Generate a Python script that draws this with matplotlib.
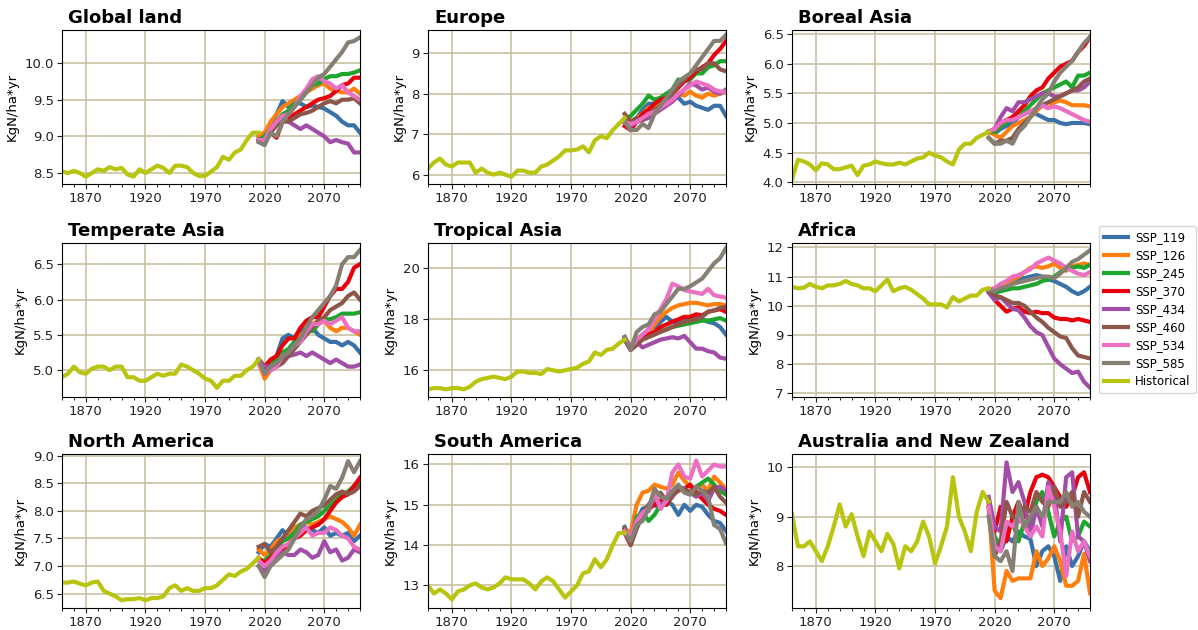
import numpy as np
import matplotlib
matplotlib.use("Agg")
import matplotlib.pyplot as plt
from matplotlib.ticker import MultipleLocator

hist_years = list(range(1850, 2016, 5))
ssp_years = list(range(2015, 2101, 5))
scenarios = ["SSP_119", "SSP_126", "SSP_245", "SSP_370", "SSP_434", "SSP_460", "SSP_534", "SSP_585"]
regions = ["Global land", "Europe", "Boreal Asia", "Temperate Asia", "Tropical Asia", "Africa",
           "North America", "South America", "Australia and New Zealand"]

# ---- Global land ----
global_hist = [8.52, 8.50, 8.53, 8.50, 8.45, 8.50, 8.55, 8.53, 8.58, 8.55, 8.57, 8.48, 8.45, 8.55, 8.50, 8.55, 8.60,
               8.57, 8.50, 8.60, 8.60, 8.58, 8.50, 8.46, 8.46, 8.52, 8.58, 8.72, 8.68, 8.78, 8.82, 8.95, 9.05, 9.05]
global_ssp = [
    [9.0, 9.05, 9.15, 9.3, 9.48, 9.4, 9.45, 9.45, 9.4, 9.42, 9.4, 9.38, 9.33, 9.28, 9.2, 9.15, 9.15, 9.05],
    [9.0, 9.05, 9.2, 9.3, 9.4, 9.45, 9.5, 9.55, 9.6, 9.65, 9.7, 9.72, 9.65, 9.62, 9.6, 9.6, 9.65, 9.58],
    [8.95, 9.0, 9.1, 9.2, 9.3, 9.35, 9.45, 9.5, 9.6, 9.7, 9.72, 9.78, 9.82, 9.82, 9.85, 9.85, 9.87, 9.9],
    [8.95, 8.95, 9.05, 8.98, 9.2, 9.25, 9.3, 9.35, 9.4, 9.45, 9.5, 9.52, 9.55, 9.62, 9.7, 9.72, 9.8, 9.8],
    [8.95, 8.92, 9.1, 9.2, 9.25, 9.2, 9.15, 9.1, 9.15, 9.1, 9.05, 9.0, 8.92, 8.95, 8.92, 8.9, 8.78, 8.78],
    [8.95, 8.92, 9.05, 9.15, 9.2, 9.2, 9.25, 9.3, 9.32, 9.35, 9.4, 9.45, 9.48, 9.45, 9.5, 9.5, 9.52, 9.45],
    [8.95, 8.95, 9.1, 9.2, 9.28, 9.3, 9.4, 9.55, 9.65, 9.78, 9.82, 9.75, 9.72, 9.65, 9.7, 9.6, 9.55, 9.5],
    [8.92, 8.88, 9.05, 9.0, 9.2, 9.3, 9.4, 9.5, 9.6, 9.7, 9.8, 9.85, 9.95, 10.05, 10.15, 10.28, 10.3, 10.35],
]

# ---- Europe ----
europe_hist = [6.15, 6.3, 6.4, 6.25, 6.2, 6.3, 6.3, 6.3, 6.05, 6.15, 6.05, 6.0, 6.05, 6.0, 5.95, 6.1, 6.1, 6.05,
               6.05, 6.2, 6.25, 6.35, 6.45, 6.6, 6.6, 6.62, 6.7, 6.55, 6.85, 6.95, 6.9, 7.1, 7.25, 7.4]
europe_ssp = [
    [7.3, 7.3, 7.4, 7.6, 7.75, 7.75, 7.85, 7.9, 7.95, 7.9, 7.75, 7.8, 7.7, 7.65, 7.6, 7.7, 7.7, 7.45],
    [7.3, 7.2, 7.4, 7.5, 7.65, 7.7, 7.8, 7.9, 8.0, 8.0, 7.95, 8.05, 7.95, 7.9, 8.0, 7.95, 8.0, 8.05],
    [7.35, 7.45, 7.6, 7.75, 7.95, 7.85, 7.9, 8.0, 8.1, 8.35, 8.3, 8.35, 8.5, 8.5, 8.65, 8.7, 8.8, 8.8],
    [7.2, 7.1, 7.3, 7.5, 7.6, 7.75, 7.85, 7.9, 8.0, 8.15, 8.3, 8.4, 8.55, 8.65, 8.75, 8.95, 9.1, 9.3],
    [7.3, 7.2, 7.3, 7.35, 7.4, 7.5, 7.6, 7.7, 7.8, 7.95, 8.1, 8.25, 8.2, 8.1, 8.15, 8.05, 8.0, 8.1],
    [7.5, 7.3, 7.4, 7.35, 7.5, 7.6, 7.7, 7.85, 8.0, 8.2, 8.35, 8.5, 8.6, 8.6, 8.75, 8.75, 8.6, 8.55],
    [7.3, 7.25, 7.3, 7.4, 7.5, 7.55, 7.65, 7.75, 7.85, 8.0, 8.1, 8.2, 8.3, 8.25, 8.2, 8.1, 8.05, 8.05],
    [7.3, 7.1, 7.1, 7.25, 7.15, 7.5, 7.7, 7.9, 8.1, 8.3, 8.4, 8.5, 8.7, 8.9, 9.1, 9.3, 9.3, 9.45],
]

# ---- Boreal Asia ----
boreal_hist = [4.05, 4.38, 4.35, 4.3, 4.2, 4.32, 4.3, 4.22, 4.22, 4.25, 4.28, 4.12, 4.28, 4.3, 4.35, 4.32, 4.3,
               4.3, 4.33, 4.3, 4.35, 4.4, 4.42, 4.5, 4.45, 4.42, 4.35, 4.3, 4.55, 4.65, 4.65, 4.75, 4.8, 4.85]
boreal_ssp = [
    [4.85, 4.82, 4.9, 4.95, 5.0, 5.1, 5.15, 5.2, 5.15, 5.1, 5.05, 5.05, 5.0, 4.98, 5.0, 5.0, 5.0, 4.98],
    [4.85, 4.8, 4.75, 4.85, 4.95, 5.0, 5.05, 5.1, 5.2, 5.3, 5.25, 5.35, 5.38, 5.35, 5.3, 5.3, 5.3, 5.28],
    [4.85, 4.85, 4.95, 5.0, 5.1, 5.15, 5.2, 5.3, 5.4, 5.5, 5.55, 5.6, 5.65, 5.7, 5.6, 5.8, 5.8, 5.85],
    [4.85, 4.9, 5.0, 5.05, 5.1, 5.2, 5.3, 5.45, 5.55, 5.6, 5.75, 5.85, 5.95, 6.0, 6.05, 6.2, 6.3, 6.45],
    [4.85, 4.9, 5.1, 5.25, 5.2, 5.35, 5.35, 5.4, 5.45, 5.5, 5.5, 5.45, 5.45, 5.5, 5.55, 5.55, 5.6, 5.7],
    [4.75, 4.65, 4.7, 4.7, 4.75, 4.9, 5.0, 5.1, 5.25, 5.3, 5.35, 5.4, 5.45, 5.5, 5.55, 5.6, 5.7, 5.75],
    [4.85, 4.9, 5.0, 5.05, 5.05, 5.1, 5.15, 5.2, 5.25, 5.3, 5.25, 5.28, 5.25, 5.2, 5.15, 5.1, 5.05, 5.02],
    [4.75, 4.65, 4.65, 4.7, 4.65, 4.85, 4.95, 5.1, 5.25, 5.4, 5.5, 5.7, 5.85, 5.95, 6.05, 6.2, 6.35, 6.45],
]

# ---- Temperate Asia ----
temperate_hist = [4.9, 4.95, 5.05, 4.97, 4.95, 5.02, 5.05, 5.05, 5.0, 5.05, 5.05, 4.9, 4.9, 4.85, 4.85, 4.9, 4.95,
                  4.92, 4.95, 4.95, 5.08, 5.05, 5.0, 4.95, 4.88, 4.85, 4.75, 4.85, 4.85, 4.92, 4.92, 5.0, 5.05, 5.15]
temperate_ssp = [
    [5.15, 5.0, 5.1, 5.2, 5.45, 5.5, 5.45, 5.55, 5.6, 5.6, 5.5, 5.45, 5.4, 5.4, 5.35, 5.4, 5.35, 5.25],
    [5.1, 4.88, 5.0, 5.1, 5.2, 5.25, 5.4, 5.5, 5.55, 5.65, 5.7, 5.7, 5.6, 5.55, 5.6, 5.6, 5.55, 5.5],
    [5.15, 5.05, 5.1, 5.15, 5.25, 5.3, 5.4, 5.45, 5.6, 5.55, 5.65, 5.72, 5.72, 5.75, 5.8, 5.8, 5.8, 5.82],
    [5.15, 5.05, 5.15, 5.2, 5.35, 5.45, 5.45, 5.6, 5.7, 5.75, 5.75, 5.9, 6.05, 6.15, 6.15, 6.25, 6.45, 6.5],
    [5.15, 5.05, 5.05, 5.05, 5.15, 5.2, 5.22, 5.25, 5.2, 5.25, 5.2, 5.15, 5.1, 5.15, 5.1, 5.05, 5.05, 5.08],
    [5.15, 4.95, 5.0, 5.05, 5.1, 5.2, 5.3, 5.4, 5.5, 5.6, 5.7, 5.75, 5.85, 5.9, 5.95, 6.05, 6.1, 6.0],
    [5.1, 4.95, 5.0, 5.05, 5.2, 5.25, 5.35, 5.4, 5.55, 5.65, 5.65, 5.7, 5.65, 5.7, 5.75, 5.6, 5.55, 5.55],
    [5.15, 4.95, 5.05, 5.1, 5.2, 5.25, 5.35, 5.45, 5.6, 5.75, 5.85, 5.95, 6.05, 6.2, 6.5, 6.6, 6.6, 6.7],
]

# ---- Tropical Asia ----
tropical_hist = [15.25, 15.3, 15.3, 15.25, 15.3, 15.3, 15.25, 15.35, 15.55, 15.65, 15.7, 15.75, 15.7, 15.65, 15.75,
                 15.95, 15.95, 15.9, 15.9, 15.85, 16.05, 16.0, 15.95, 16.0, 16.05, 16.1, 16.25, 16.35, 16.7, 16.6,
                 16.8, 16.85, 17.05, 17.2]
tropical_ssp = [
    [17.3, 16.8, 17.2, 17.4, 17.6, 17.7, 17.9, 18.1, 17.9, 17.9, 18.0, 18.05, 18.1, 18.0, 17.9, 17.85, 17.7, 17.4],
    [17.3, 16.8, 17.1, 17.3, 17.5, 17.8, 18.1, 18.3, 18.45, 18.55, 18.6, 18.65, 18.65, 18.6, 18.55, 18.6, 18.6, 18.55],
    [17.3, 16.9, 17.2, 17.3, 17.4, 17.5, 17.55, 17.6, 17.7, 17.75, 17.8, 17.85, 17.9, 17.95, 17.95, 18.0, 18.05, 17.95],
    [17.2, 16.8, 17.0, 17.3, 17.4, 17.5, 17.7, 17.8, 17.9, 18.0, 18.1, 18.1, 18.2, 18.15, 18.3, 18.35, 18.4, 18.3],
    [17.3, 16.9, 17.1, 16.9, 17.0, 17.1, 17.2, 17.25, 17.3, 17.25, 17.35, 17.1, 16.85, 16.85, 16.75, 16.7, 16.5, 16.45],
    [17.2, 16.8, 17.0, 17.2, 17.3, 17.4, 17.5, 17.6, 17.7, 17.8, 17.9, 17.95, 18.0, 18.1, 18.3, 18.35, 18.45, 18.5],
    [17.3, 16.9, 17.2, 17.4, 17.6, 18.0, 18.4, 18.8, 19.4, 19.3, 19.15, 19.1, 19.05, 19.0, 19.2, 18.95, 18.9, 18.85],
    [17.3, 16.8, 17.5, 17.7, 17.8, 18.2, 18.3, 18.6, 18.9, 19.2, 19.2, 19.3, 19.45, 19.6, 19.9, 20.2, 20.4, 20.8],
]

# ---- Africa ----
africa_hist = [10.65, 10.6, 10.62, 10.75, 10.65, 10.6, 10.7, 10.7, 10.75, 10.85, 10.75, 10.7, 10.6, 10.6, 10.5,
               10.7, 10.9, 10.5, 10.6, 10.65, 10.55, 10.4, 10.25, 10.05, 10.05, 10.05, 9.95, 10.3, 10.15, 10.25,
               10.35, 10.35, 10.55, 10.6]
africa_ssp = [
    [10.55, 10.5, 10.6, 10.7, 10.85, 10.9, 10.95, 11.0, 11.05, 11.0, 10.9, 10.85, 10.75, 10.65, 10.5, 10.4, 10.5, 10.65],
    [10.55, 10.6, 10.65, 10.75, 10.9, 11.0, 11.15, 11.3, 11.35, 11.3, 11.35, 11.45, 11.3, 11.2, 11.35, 11.4, 11.45, 11.4],
    [10.55, 10.45, 10.5, 10.55, 10.6, 10.6, 10.65, 10.7, 10.75, 10.85, 10.9, 11.0, 11.15, 11.25, 11.3, 11.35, 11.3, 11.4],
    [10.5, 10.2, 10.0, 9.8, 9.9, 9.95, 9.8, 9.75, 9.8, 9.75, 9.75, 9.6, 9.55, 9.55, 9.5, 9.55, 9.5, 9.45],
    [10.45, 10.2, 10.3, 10.1, 9.9, 9.85, 9.6, 9.3, 9.1, 9.0, 8.6, 8.2, 8.0, 7.85, 7.7, 7.75, 7.4, 7.2],
    [10.5, 10.35, 10.3, 10.2, 10.1, 10.1, 10.0, 9.8, 9.6, 9.45, 9.25, 9.1, 8.95, 8.9, 8.55, 8.3, 8.25, 8.2],
    [10.55, 10.6, 10.75, 10.85, 11.0, 11.05, 11.15, 11.25, 11.45, 11.55, 11.65, 11.55, 11.45, 11.3, 11.2, 11.1, 11.05, 11.15],
    [10.55, 10.5, 10.6, 10.65, 10.75, 10.8, 10.85, 10.9, 10.95, 11.0, 11.0, 10.95, 11.1, 11.3, 11.5, 11.6, 11.75, 11.9],
]

# ---- North America ----
namerica_hist = [6.7, 6.7, 6.72, 6.68, 6.65, 6.7, 6.72, 6.55, 6.5, 6.45, 6.38, 6.4, 6.4, 6.42, 6.38, 6.42, 6.42,
                 6.45, 6.6, 6.65, 6.55, 6.6, 6.55, 6.55, 6.6, 6.6, 6.65, 6.75, 6.85, 6.82, 6.9, 6.95, 7.05, 7.15]
namerica_ssp = [
    [7.25, 7.4, 7.35, 7.5, 7.65, 7.55, 7.6, 7.75, 7.7, 7.65, 7.6, 7.7, 7.55, 7.6, 7.55, 7.6, 7.45, 7.55],
    [7.3, 7.2, 7.3, 7.45, 7.5, 7.6, 7.7, 7.75, 7.8, 7.75, 7.8, 7.85, 7.9, 7.85, 7.8, 7.7, 7.55, 7.75],
    [7.1, 7.1, 7.2, 7.3, 7.45, 7.5, 7.6, 7.75, 7.8, 7.85, 7.9, 8.0, 8.1, 8.2, 8.3, 8.35, 8.45, 8.5],
    [7.15, 7.05, 7.15, 7.25, 7.3, 7.4, 7.5, 7.55, 7.65, 7.7, 7.75, 7.85, 8.0, 8.15, 8.25, 8.3, 8.45, 8.6],
    [7.0, 6.9, 7.1, 7.15, 7.25, 7.2, 7.2, 7.3, 7.25, 7.15, 7.2, 7.45, 7.25, 7.3, 7.1, 7.15, 7.3, 7.25],
    [7.35, 7.4, 7.25, 7.35, 7.5, 7.65, 7.8, 7.95, 7.9, 8.0, 8.05, 8.1, 8.2, 8.3, 8.35, 8.3, 8.35, 8.45],
    [7.1, 7.0, 7.1, 7.25, 7.35, 7.4, 7.5, 7.6, 7.7, 7.55, 7.6, 7.6, 7.7, 7.65, 7.55, 7.5, 7.35, 7.3],
    [7.0, 6.8, 7.0, 7.1, 7.2, 7.3, 7.5, 7.7, 7.85, 7.9, 8.0, 8.2, 8.45, 8.4, 8.6, 8.9, 8.7, 8.9],
]

# ---- South America ----
samerica_hist = [13.0, 12.8, 12.9, 12.8, 12.65, 12.85, 12.9, 13.0, 13.05, 12.95, 12.9, 12.95, 13.05, 13.2, 13.15,
                 13.15, 13.15, 13.05, 12.9, 13.1, 13.2, 13.1, 12.9, 12.7, 12.85, 13.0, 13.3, 13.35, 13.65, 13.45,
                 13.65, 14.0, 14.3, 14.3]
samerica_ssp = [
    [14.45, 14.1, 14.6, 14.9, 14.95, 15.0, 14.9, 15.1, 15.0, 14.75, 15.0, 14.85, 15.0, 14.95, 14.75, 14.6, 14.55, 14.35],
    [14.4, 14.3, 15.0, 15.3, 15.35, 15.5, 15.45, 15.4, 15.5, 15.8, 15.6, 15.45, 15.4, 15.5, 15.35, 15.7, 15.55, 15.4],
    [14.4, 14.1, 14.7, 14.8, 14.6, 14.75, 15.0, 15.0, 15.2, 15.4, 15.35, 15.3, 15.45, 15.55, 15.65, 15.5, 15.35, 15.25],
    [14.3, 14.0, 14.5, 14.7, 14.9, 15.0, 15.1, 15.0, 15.25, 15.35, 15.4, 15.5, 15.3, 15.15, 15.0, 14.9, 14.85, 14.75],
    [14.3, 14.2, 14.6, 14.8, 14.85, 15.2, 15.0, 15.1, 15.2, 15.45, 15.4, 15.3, 15.2, 15.3, 15.1, 15.4, 15.45, 15.35],
    [14.4, 14.0, 14.4, 14.75, 15.0, 15.2, 15.3, 15.1, 15.25, 15.35, 15.4, 15.3, 15.25, 15.35, 15.3, 15.45, 15.2, 15.05],
    [14.35, 14.2, 14.6, 14.8, 14.9, 15.3, 14.9, 15.1, 15.8, 16.0, 15.7, 15.65, 16.1, 15.7, 15.85, 16.0, 15.95, 15.95],
    [14.3, 14.1, 14.5, 14.6, 14.9, 15.4, 15.2, 15.15, 15.35, 15.5, 15.3, 15.25, 15.45, 15.35, 15.2, 14.5, 14.4, 14.05],
]

# ---- Australia and New Zealand ----
aus_hist = [9.05, 8.4, 8.4, 8.5, 8.3, 8.1, 8.4, 8.8, 9.25, 8.8, 9.05, 8.6, 8.2, 8.7, 8.5, 8.3, 8.65, 8.45, 7.95,
            8.4, 8.3, 8.5, 8.9, 8.6, 8.05, 8.4, 8.8, 9.8, 9.0, 8.7, 8.3, 9.1, 9.5, 9.3]
aus_ssp = [
    [9.3, 8.5, 8.3, 8.6, 8.5, 8.7, 8.6, 8.55, 8.0, 8.3, 8.4, 8.2, 7.7, 8.4, 8.0, 8.2, 8.5, 8.3],
    [9.2, 7.5, 7.35, 7.9, 7.7, 7.75, 7.75, 7.75, 8.3, 8.0, 8.15, 8.4, 8.1, 7.6, 7.6, 7.7, 8.25, 7.45],
    [9.3, 8.6, 8.4, 8.8, 8.9, 8.5, 8.9, 8.8, 9.3, 9.5, 9.1, 8.6, 8.9, 9.0, 8.5, 8.6, 8.9, 8.8],
    [9.3, 8.7, 9.2, 8.5, 9.0, 9.3, 9.0, 9.5, 9.8, 9.85, 9.8, 9.6, 9.4, 9.2, 9.4, 9.8, 9.9, 9.5],
    [9.4, 8.8, 8.7, 10.1, 9.5, 9.7, 9.3, 8.6, 9.2, 8.8, 9.7, 9.5, 8.5, 9.8, 9.9, 8.6, 8.5, 8.1],
    [9.2, 8.2, 8.5, 9.3, 9.0, 8.9, 9.2, 9.1, 9.5, 9.3, 9.2, 9.6, 9.2, 9.3, 9.5, 9.0, 9.5, 9.3],
    [9.2, 8.4, 8.3, 8.9, 8.8, 9.0, 8.8, 8.6, 8.8, 8.6, 9.6, 9.2, 8.7, 7.8, 8.7, 8.3, 8.5, 8.2],
    [9.0, 8.2, 8.1, 8.3, 7.9, 9.3, 8.8, 9.0, 9.2, 9.0, 9.3, 9.3, 9.3, 9.5, 9.2, 9.3, 9.1, 9.0],
]

hist_all = [global_hist, europe_hist, boreal_hist, temperate_hist, tropical_hist, africa_hist,
            namerica_hist, samerica_hist, aus_hist]
ssp_all = [global_ssp, europe_ssp, boreal_ssp, temperate_ssp, tropical_ssp, africa_ssp,
           namerica_ssp, samerica_ssp, aus_ssp]

ylims = [(8.35, 10.45), (5.77, 9.57), (3.97, 6.57), (4.62, 6.8), (14.95, 21.0), (6.88, 12.15),
         (6.24, 9.03), (12.44, 16.26), (7.15, 10.27)]
ysteps = [0.5, 1, 0.5, 0.5, 2, 1, 0.5, 1, 1]

ssp_colors = ["#3a71a8", "#ff7f0e", "#1ca62c", "#e8000b", "#a24ea8", "#8c564b", "#ec6fc4", "#858073"]
hist_color = "#b9c40f"
grid_color = "#c8c2a2"

fig = plt.figure(figsize=(11.98, 6.30), dpi=100)
lefts = [62 / 1198, 428 / 1198, 792 / 1198]
bottoms = [1 - 184 / 630, 1 - 397 / 630, 1 - 608 / 630]
w = 298 / 1198
h = 154 / 630

handles = None
for i, name in enumerate(regions):
    r, c = divmod(i, 3)
    ax = fig.add_axes([lefts[c], bottoms[r], w, h])
    lines = []
    for k, sc in enumerate(scenarios):
        ln, = ax.plot(ssp_years, ssp_all[i][k], color=ssp_colors[k], lw=3, label=sc)
        lines.append(ln)
    lh, = ax.plot(hist_years, hist_all[i], color=hist_color, lw=3, label="Historical")
    lines.append(lh)
    handles = lines
    ax.set_xlim(1850, 2100)
    ax.set_ylim(*ylims[i])
    ax.set_xticks([1870, 1920, 1970, 2020, 2070])
    ax.xaxis.set_minor_locator(MultipleLocator(10))
    ax.yaxis.set_major_locator(MultipleLocator(ysteps[i]))
    ax.grid(True, which="major", color=grid_color, lw=1.2)
    ax.set_axisbelow(True)
    ax.tick_params(labelsize=9.5, colors="#222222", pad=2.5)
    ax.set_ylabel("KgN/ha*yr", fontsize=9.5)
    ax.set_title(name, loc="left", fontweight="bold", fontsize=13, x=0.02, pad=5)

fig.legend(handles=handles, labels=scenarios + ["Historical"], loc="upper left",
           bbox_to_anchor=(1099 / 1198, 1 - 226 / 630), fontsize=8.5, frameon=True,
           handlelength=2.0, handletextpad=0.6, borderpad=0.45, labelspacing=0.42,
           borderaxespad=0.0)

fig.savefig("out.png", dpi=100)
